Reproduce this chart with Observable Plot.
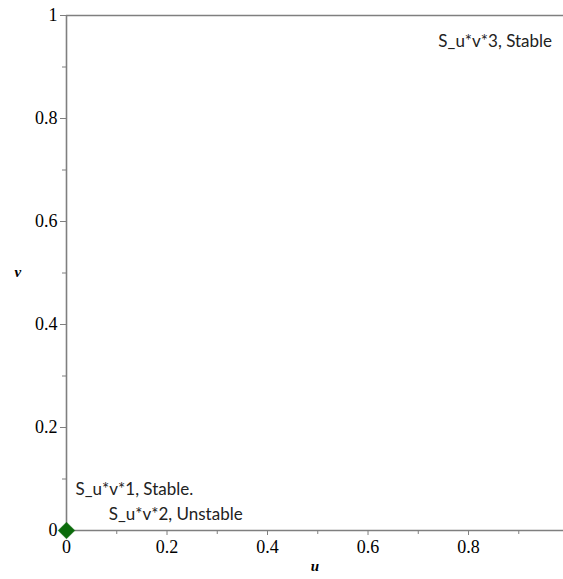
<!DOCTYPE html>
<html><head><meta charset="utf-8">
<script src="https://cdn.jsdelivr.net/npm/d3@7"></script>
<script src="https://cdn.jsdelivr.net/npm/@observablehq/plot@0.6"></script>
<style>body{margin:0;background:#fff;} svg{display:block;}</style>
</head><body><div id="chart"></div>
<script>
const pointU = [0];
const pointV = [0];
const labelText = ["S_u*v*1, Stable.", "S_u*v*2, Unstable", "S_u*v*3, Stable"];
const labelU = [0.018, 0.084, 0.740];
const labelV = [0.080, 0.031, 0.949];
const xMajor = [0, 0.2, 0.4, 0.6, 0.8];
const xMinor = [0.1, 0.3, 0.5, 0.7, 0.9];
const yMajor = [0, 0.2, 0.4, 0.6, 0.8, 1];
const yMinor = [0.1, 0.3, 0.5, 0.7, 0.9];

const points = pointU.map((u, i) => ({u, v: pointV[i]}));
const labels = labelText.map((t, i) => ({t, u: labelU[i], v: labelV[i]}));
const axisColor = "#7f7f7f";
const serif = "'Liberation Serif', 'Times New Roman', serif";
const sans = "Lato, 'Open Sans', sans-serif";

const chart = Plot.plot({
  width: 563, height: 579,
  marginLeft: 66, marginRight: 0, marginTop: 15, marginBottom: 49,
  style: {fontFamily: serif, fontSize: "18px", color: "#000", background: "#fff"},
  x: {type: "linear", domain: [0, 0.989], axis: null},
  y: {type: "linear", domain: [0, 1], axis: null},
  marks: [
    Plot.ruleY([1], {stroke: axisColor, strokeWidth: 1.6}),
    Plot.ruleX([0], {stroke: axisColor, strokeWidth: 1.6}),
    Plot.ruleY([0], {stroke: axisColor, strokeWidth: 1.6}),
    Plot.axisX({ticks: xMajor, tickSize: 5, tickFormat: d => String(d), tickPadding: 5, fontSize: 18, stroke: axisColor, label: null, anchor: "bottom"}),
    Plot.axisX({ticks: xMinor, tickSize: 4, tickFormat: () => "", stroke: axisColor, label: null, anchor: "bottom"}),
    Plot.axisY({ticks: yMajor, tickSize: 6, tickFormat: d => String(d), tickPadding: 3, fontSize: 18, stroke: axisColor, label: null, anchor: "left"}),
    Plot.axisY({ticks: yMinor, tickSize: 4, tickFormat: () => "", stroke: axisColor, label: null, anchor: "left"}),
    Plot.text(labels, {x: "u", y: "v", text: "t", textAnchor: "start", fontSize: 17, fontFamily: sans, fill: "#222"}),
    Plot.dot(points, {x: "u", y: "v", symbol: "diamond2", r: 7.5, fill: "#0b6b0b", stroke: "#0b6b0b", strokeWidth: 0.5}),
    Plot.text(["u"], {frameAnchor: "bottom", text: d => d, dx: 0, dy: 40, fontSize: 15, fontWeight: "bold", fontStyle: "italic", fontFamily: serif, fill: "#000"}),
    Plot.text(["v"], {frameAnchor: "left", text: d => d, dx: -52, dy: -1, fontSize: 15, fontWeight: "bold", fontStyle: "italic", fontFamily: serif, fill: "#000"})
  ]
});
document.getElementById("chart").append(chart);
</script></body></html>
